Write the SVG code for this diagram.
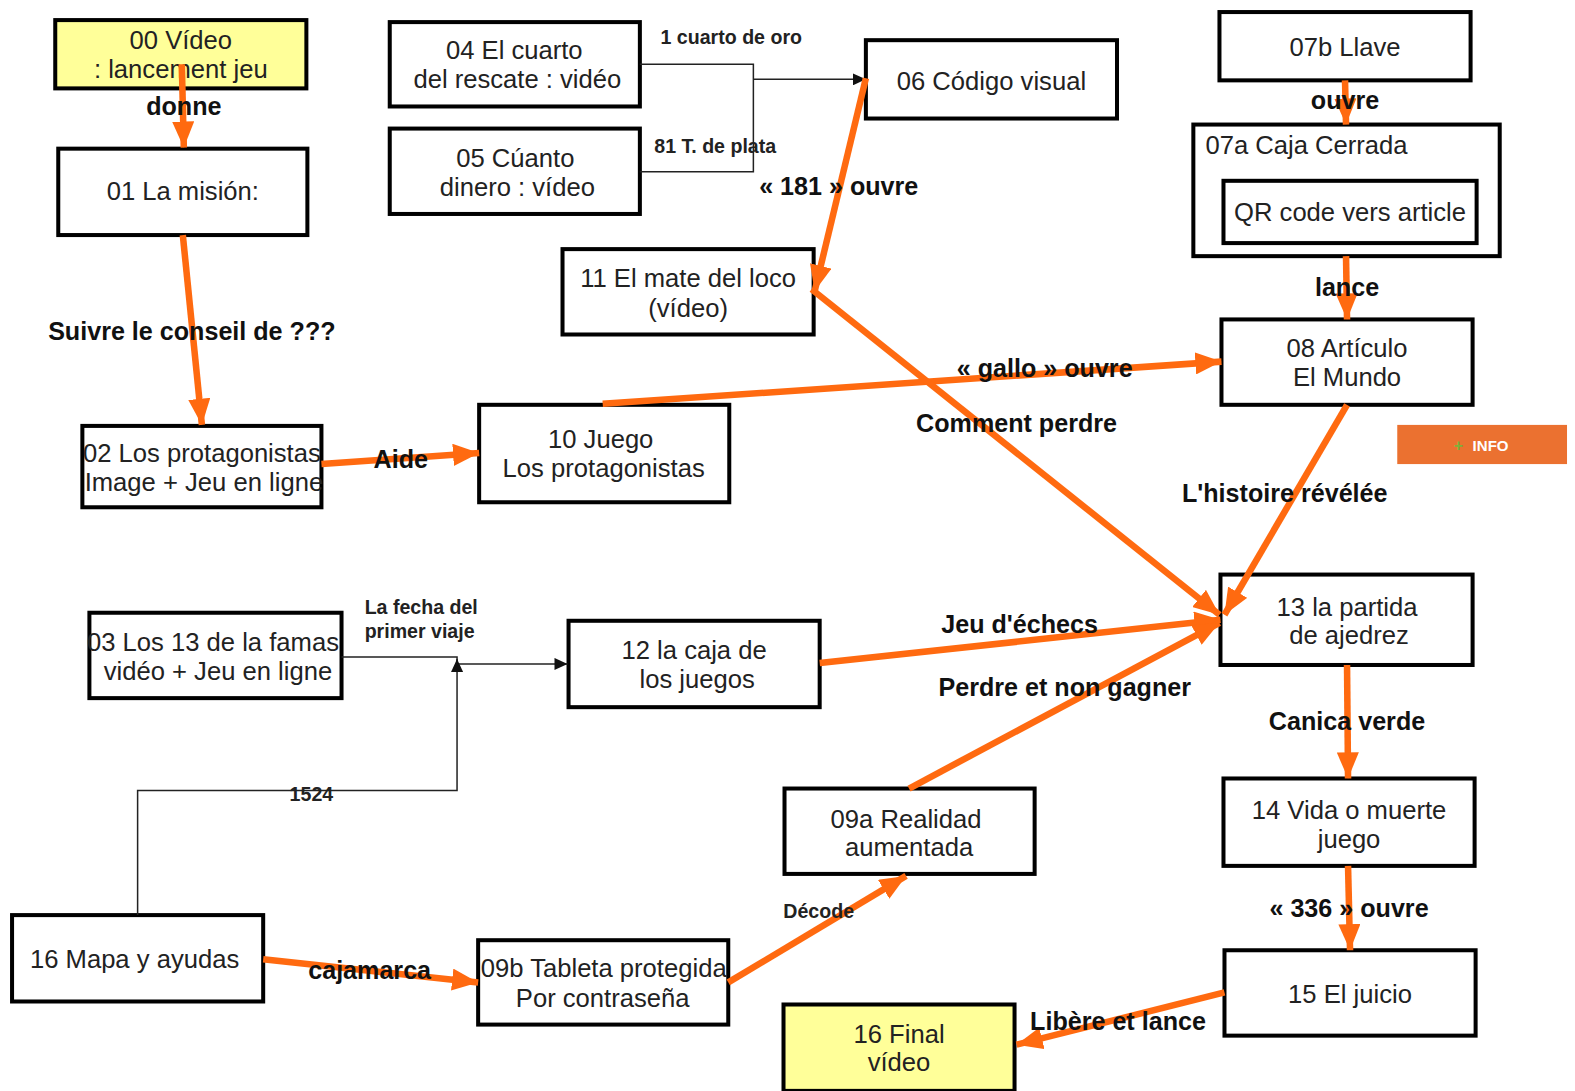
<svg xmlns="http://www.w3.org/2000/svg" width="1575" height="1091" viewBox="0 0 1575 1091">
<style>
.box{fill:#fff;stroke:#000;stroke-width:4}
.yel{fill:#FFFF99;stroke:#000;stroke-width:4}
.nt{font-family:"Liberation Sans",Arial,sans-serif;font-size:25.5px;fill:#222;text-anchor:middle}
.lb{font-family:"Liberation Sans",Arial,sans-serif;font-size:25px;font-weight:bold;fill:#111;text-anchor:middle}
.sl{font-family:"Liberation Sans",Arial,sans-serif;font-size:19.5px;font-weight:bold;fill:#222;text-anchor:middle}
.or{fill:none;stroke:#FF6A10;stroke-width:6.5;marker-end:url(#ao)}
.th{fill:none;stroke:#222;stroke-width:1.5}
.tha{fill:none;stroke:#222;stroke-width:1.5;marker-end:url(#ab)}
</style>
<defs>
<marker id="ao" markerUnits="userSpaceOnUse" markerWidth="28" markerHeight="22" refX="26" refY="11" orient="auto">
<path d="M0,0 L26,11 L0,22 Z" fill="#FF6A10"/>
</marker>
<marker id="ab" markerUnits="userSpaceOnUse" markerWidth="14" markerHeight="12" refX="13" refY="6" orient="auto">
<path d="M0,0 L13,6 L0,12 Z" fill="#111"/>
</marker>
</defs>
<rect width="1575" height="1091" fill="#fff"/>
<g transform="scale(1.0045)">
<g id="n00"><rect class="yel" x="55" y="20" width="250" height="68"/><text class="nt" x="180" y="49">00 Vídeo</text><text class="nt" x="180" y="78">: lancement jeu</text></g>
<g id="n01"><rect class="box" x="58" y="148" width="248" height="86"/><text class="nt" x="182" y="199">01 La misión:</text></g>
<g id="n04"><rect class="box" x="388" y="22" width="249" height="84"/><text class="nt" x="512" y="59">04 El cuarto</text><text class="nt" x="515" y="88">del rescate : vidéo</text></g>
<g id="n05"><rect class="box" x="388" y="128" width="249" height="85"/><text class="nt" x="513" y="166">05 Cúanto</text><text class="nt" x="515" y="195">dinero : vídeo</text></g>
<g id="n06"><rect class="box" x="862" y="40" width="250" height="78"/><text class="nt" x="987" y="90">06 Código visual</text></g>
<g id="n07b"><rect class="box" x="1214" y="12" width="250" height="68"/><text class="nt" x="1339" y="56">07b Llave</text></g>
<g id="n07a"><rect class="box" x="1188" y="124" width="305" height="131"/><text class="nt" x="1200" y="153" style="text-anchor:start">07a Caja Cerrada</text>
<g id="nQR"><rect class="box" x="1218" y="180" width="252" height="62"/><text class="nt" x="1344" y="220">QR code vers article</text></g></g>
<g id="n08"><rect class="box" x="1216" y="318" width="250" height="85"/><text class="nt" x="1341" y="355">08 Artículo</text><text class="nt" x="1341" y="384">El Mundo</text></g>
<g id="n11"><rect class="box" x="560" y="248" width="250" height="85"/><text class="nt" x="685" y="286">11 El mate del loco</text><text class="nt" x="685" y="316">(vídeo)</text></g>
<g id="n02"><rect class="box" x="82" y="424" width="238" height="81"/><text class="nt" x="201" y="460">02 Los protagonistas</text><text class="nt" x="203" y="489">Image + Jeu en ligne</text></g>
<g id="n10"><rect class="box" x="477" y="403" width="249" height="97"/><text class="nt" x="598" y="446">10 Juego</text><text class="nt" x="601" y="475">Los protagonistas</text></g>
<g id="n13"><rect class="box" x="1215" y="572" width="251" height="90"/><text class="nt" x="1341" y="613">13 la partida</text><text class="nt" x="1343" y="641">de ajedrez</text></g>
<g id="n03"><rect class="box" x="89" y="610" width="251" height="85"/><text class="nt" x="212" y="648">03 Los 13 de la famas</text><text class="nt" x="217" y="677">vidéo + Jeu en ligne</text></g>
<g id="n12"><rect class="box" x="566" y="618" width="250" height="86"/><text class="nt" x="691" y="656">12 la caja de</text><text class="nt" x="694" y="685">los juegos</text></g>
<g id="n09a"><rect class="box" x="781" y="785" width="249" height="85"/><text class="nt" x="902" y="824">09a Realidad</text><text class="nt" x="905" y="852">aumentada</text></g>
<g id="n14"><rect class="box" x="1218" y="775" width="250" height="87"/><text class="nt" x="1343" y="815">14 Vida o muerte</text><text class="nt" x="1343" y="844">juego</text></g>
<g id="n16m"><rect class="box" x="12" y="911" width="250" height="86"/><text class="nt" x="134" y="964">16 Mapa y ayudas</text></g>
<g id="n09b"><rect class="box" x="476" y="936" width="249" height="84"/><text class="nt" x="601" y="973">09b Tableta protegida</text><text class="nt" x="600" y="1002">Por contraseña</text></g>
<g id="n15"><rect class="box" x="1219" y="946" width="250" height="85"/><text class="nt" x="1344" y="999">15 El juicio</text></g>
<g id="n16f"><rect class="yel" x="780" y="1000" width="230" height="86"/><text class="nt" x="895" y="1038">16 Final</text><text class="nt" x="895" y="1066">vídeo</text></g>
<g id="info"><rect x="1391" y="423" width="169" height="39" fill="#EB7130"/><text x="1452" y="449" style="font-family:'Liberation Sans',Arial,sans-serif;font-size:16px;font-weight:bold;fill:#7DB23A;text-anchor:middle">+</text><text x="1466" y="449" style="font-family:'Liberation Sans',Arial,sans-serif;font-size:15px;font-weight:bold;fill:#fff">INFO</text></g>
<g id="connectors">
<path class="th" d="M637,64 H750 V171 H637"/>
<path class="tha" d="M750,79 H862"/>
<path class="th" d="M340,654 H455 V661"/>
<path class="tha" d="M455,661 H565"/>
<path class="tha" d="M137,911 V787 H455 V656"/>
<path class="or" d="M181,64 L183,147"/>
<path class="or" d="M182,234 L201,423"/>
<path class="or" d="M320,462 L477,451"/>
<path class="or" d="M862,78 L811,290"/>
<path class="or" d="M600,402 L1216,360"/>
<path class="or" d="M808,288 L1214,612"/>
<path class="or" d="M1339,80 L1340,124"/>
<path class="or" d="M1340,255 L1341,318"/>
<path class="or" d="M1341,403 L1219,612"/>
<path class="or" d="M816,660 L1215,617"/>
<path class="or" d="M905,785 L1214,620"/>
<path class="or" d="M1341,662 L1342,775"/>
<path class="or" d="M1342,862 L1344,946"/>
<path class="or" d="M1219,988 L1012,1040"/>
<path class="or" d="M262,955 L476,978"/>
<path class="or" d="M725,978 L902,872"/>
<g id="labels">
<text class="lb" x="183" y="114">donne</text>
<text class="lb" x="191" y="338">Suivre le conseil de ???</text>
<text class="lb" x="399" y="466">Aide</text>
<text class="lb" x="835" y="194">« 181 » ouvre</text>
<text class="lb" x="1040" y="375">« gallo » ouvre</text>
<text class="lb" x="1012" y="430">Comment perdre</text>
<text class="lb" x="1339" y="109">ouvre</text>
<text class="lb" x="1341" y="295">lance</text>
<text class="lb" x="1279" y="500">L'histoire révélée</text>
<text class="lb" x="1015" y="630">Jeu d'échecs</text>
<text class="lb" x="1060" y="693">Perdre et non gagner</text>
<text class="lb" x="1341" y="727">Canica verde</text>
<text class="lb" x="1343" y="913">« 336 » ouvre</text>
<text class="lb" x="1113" y="1025">Libère et lance</text>
<text class="lb" x="368" y="975">cajamarca</text>
<text class="sl" x="815" y="914">Décode</text>
<text class="sl" x="728" y="44">1 cuarto de oro</text>
<text class="sl" x="712" y="152">81 T. de plata</text>
<text class="sl" x="363" y="611" style="text-anchor:start">La fecha del</text>
<text class="sl" x="363" y="635" style="text-anchor:start">primer viaje</text>
<text class="sl" x="310" y="797">1524</text>
</g>
</g>
</g>
</svg>
